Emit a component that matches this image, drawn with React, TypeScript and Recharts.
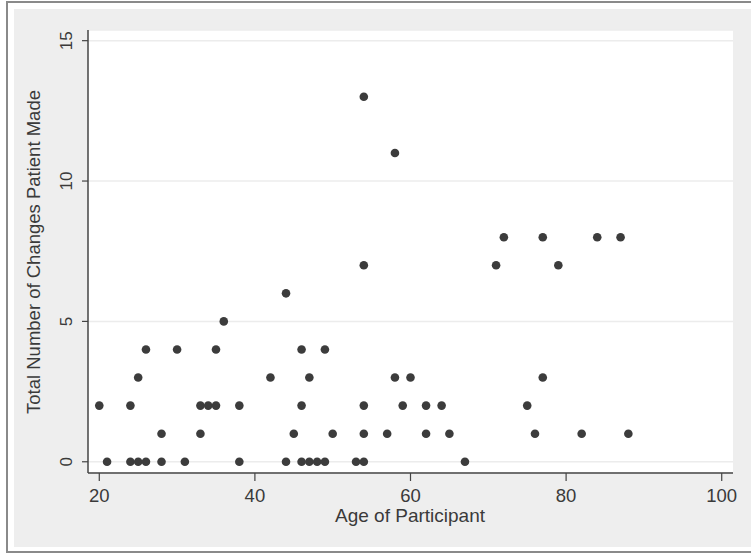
import { ScatterChart, Scatter, XAxis, YAxis, CartesianGrid } from 'recharts'

// one entry per participant (age, number of changes)
const ages = [
  21, 24, 25, 26, 28, 31, 38, 44, 46, 47, 48, 49, 53, 54, 67,
  28, 33, 45, 50, 54, 57, 62, 65, 76, 82, 88,
  20, 24, 33, 34, 35, 38, 46, 54, 59, 62, 64, 75,
  25, 42, 47, 58, 60, 77,
  26, 30, 35, 46, 49,
  36,
  44,
  54, 71, 79,
  72, 77, 84, 87,
  58,
  54,
]
const changes = [
  0, 0, 0, 0, 0, 0, 0, 0, 0, 0, 0, 0, 0, 0, 0,
  1, 1, 1, 1, 1, 1, 1, 1, 1, 1, 1,
  2, 2, 2, 2, 2, 2, 2, 2, 2, 2, 2, 2,
  3, 3, 3, 3, 3, 3,
  4, 4, 4, 4, 4,
  5,
  6,
  7, 7, 7,
  8, 8, 8, 8,
  11,
  13,
]
const xTicks = [20, 40, 60, 80, 100]
const yTicks = [0, 5, 10, 15]

const data = ages.map((age, i) => ({ age, changes: changes[i] }))

const font = '"Liberation Sans", Arial, sans-serif'
const ink = '#3a3a3a'

const XTick = (props: any) => (
  <text x={props.x} y={props.y + 19} textAnchor="middle" fontSize={18.5} fontFamily={font} fill={ink}>
    {props.payload.value}
  </text>
)

const YTick = (props: any) => {
  const bx = props.x - 8
  return (
    <text
      x={bx}
      y={props.y}
      transform={`rotate(-90, ${bx}, ${props.y})`}
      textAnchor="middle"
      fontSize={17}
      fontFamily={font}
      fill={ink}
    >
      {props.payload.value}
    </text>
  )
}

const Dot = (props: any) => <circle cx={props.cx} cy={props.cy} r={4.3} fill="#3c3c3c" />

export default function App() {
  return (
    <div style={{ position: 'absolute', left: 0, top: 0, width: 751, height: 554, overflow: 'hidden', background: '#fff' }}>
      <div
        style={{
          position: 'absolute', left: 6, top: 1, width: 800, height: 552,
          boxSizing: 'border-box', border: '2px solid #8a8a8a',
        }}
      />
      <div style={{ position: 'absolute', left: 14, top: 9, width: 800, height: 538, background: '#eeeeee' }} />
      <div style={{ position: 'absolute', left: 0, top: 0 }}>
        <ScatterChart width={751} height={554} margin={{ top: 30, right: 18, bottom: 0, left: 20 }}>
          <CartesianGrid vertical={false} fill="#ffffff" stroke="#ececec" strokeWidth={1.5} />
          <XAxis
            type="number"
            dataKey="age"
            domain={[18.55, 101.45]}
            ticks={xTicks}
            allowDataOverflow
            height={81}
            tickSize={8}
            tick={<XTick />}
            axisLine={{ stroke: '#444', strokeWidth: 1.5 }}
            tickLine={{ stroke: '#444', strokeWidth: 1.2 }}
          />
          <YAxis
            type="number"
            dataKey="changes"
            domain={[-0.4, 15.38]}
            ticks={yTicks}
            allowDataOverflow
            width={68}
            tickSize={6}
            tick={<YTick />}
            axisLine={{ stroke: '#444', strokeWidth: 1.5 }}
            tickLine={{ stroke: '#444', strokeWidth: 1.2 }}
          />
          <Scatter data={data} shape={<Dot />} isAnimationActive={false} />
          <text x={410} y={522} textAnchor="middle" fontSize={19} fontFamily={font} fill={ink}>
            Age of Participant
          </text>
          <text
            x={40}
            y={252}
            transform="rotate(-90, 40, 252)"
            textAnchor="middle"
            fontSize={18.5}
            fontFamily={font}
            fill={ink}
          >
            Total Number of Changes Patient Made
          </text>
        </ScatterChart>
      </div>
    </div>
  )
}
